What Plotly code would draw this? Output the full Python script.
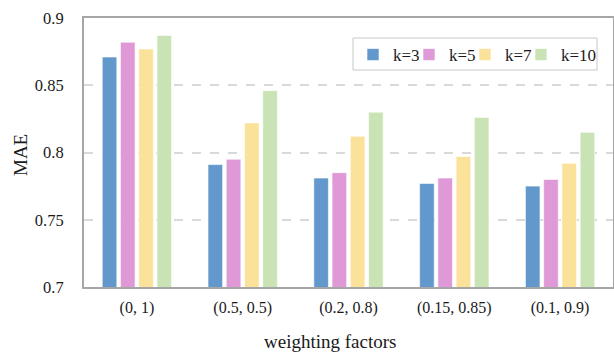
import plotly.graph_objects as go

categories = ["(0, 1)", "(0.5, 0.5)", "(0.2, 0.8)", "(0.15, 0.85)", "(0.1, 0.9)"]
series_names = ["k=3", "k=5", "k=7", "k=10"]
k3 = [0.871, 0.791, 0.781, 0.777, 0.775]
k5 = [0.882, 0.795, 0.785, 0.781, 0.780]
k7 = [0.877, 0.822, 0.812, 0.797, 0.792]
k10 = [0.887, 0.846, 0.830, 0.826, 0.815]
series_values = [k3, k5, k7, k10]
colors = ["#6398CC", "#DF99D6", "#FBE29A", "#C9E3B5"]
y_ticks = [0.7, 0.75, 0.8, 0.85, 0.9]
y_tick_labels = ["0.7", "0.75", "0.8", "0.85", "0.9"]

font_family = "Liberation Serif"
txt = "#1a1a1a"

# plot area in pixels (for converting layout positions to paper coords)
PL, PR, PT, PB = 84, 613, 18, 287
PW, PH = PR - PL, PB - PT
def px(x): return (x - PL) / PW
def py(y): return (PB - y) / PH

fig = go.Figure()
for name, vals, col in zip(series_names, series_values, colors):
    fig.add_trace(go.Bar(
        x=categories, y=vals, name=name,
        marker=dict(color=col, line=dict(color="rgba(255,255,255,0.6)", width=1)),
    ))
# spacer legend entry so the last label is not clipped
fig.add_trace(go.Scatter(x=[None], y=[None], mode="markers", name=" ",
                         marker=dict(color="rgba(0,0,0,0)"), hoverinfo="skip"))

fig.update_layout(
    width=614, height=352,
    margin=dict(l=PL, r=614 - PR, t=PT, b=352 - PB, autoexpand=False),
    paper_bgcolor="white", plot_bgcolor="white",
    barmode="group", bargap=0.31, bargroupgap=0.2,
    font=dict(family=font_family, size=16, color=txt),
    showlegend=True,
    legend=dict(
        orientation="h", x=px(353), xanchor="left", y=py(37), yanchor="top",
        borderwidth=0, bgcolor="rgba(0,0,0,0)",
        font=dict(size=17, family=font_family, color=txt),
        itemwidth=30, traceorder="normal",
        entrywidth=11, entrywidthmode="pixels",
    ),
    shapes=[dict(type="rect", xref="paper", yref="paper",
                 x0=px(353), x1=px(597), y0=py(70), y1=py(38),
                 line=dict(color="#c8c8c8", width=1), fillcolor="white", layer="above")],
    xaxis=dict(
        showline=True, linecolor="#a6a6a6", linewidth=2, mirror=True,
        ticks="outside", ticklen=5, tickcolor="rgba(0,0,0,0)",
        tickfont=dict(size=16, family=font_family, color=txt),
        showgrid=False,
    ),
    yaxis=dict(
        range=[0.7, 0.9], tickvals=y_ticks, ticktext=y_tick_labels,
        showline=True, linecolor="#a6a6a6", linewidth=2, mirror=True,
        ticks="outside", ticklen=15, tickcolor="rgba(0,0,0,0)",
        tickfont=dict(size=16.5, family=font_family, color=txt),
        showgrid=True, gridcolor="#d9d9d9", gridwidth=1.5, griddash="dash",
        zeroline=False,
    ),
    annotations=[
        dict(text="weighting factors", xref="paper", yref="paper",
             x=px(330), y=py(342), xanchor="center", yanchor="middle",
             showarrow=False, font=dict(size=19, family=font_family, color=txt)),
        dict(text="MAE", xref="paper", yref="paper",
             x=px(20), y=py(155), xanchor="center", yanchor="middle", textangle=-90,
             showarrow=False, font=dict(size=19, family=font_family, color=txt)),
    ],
)

fig.write_html("out.html")
